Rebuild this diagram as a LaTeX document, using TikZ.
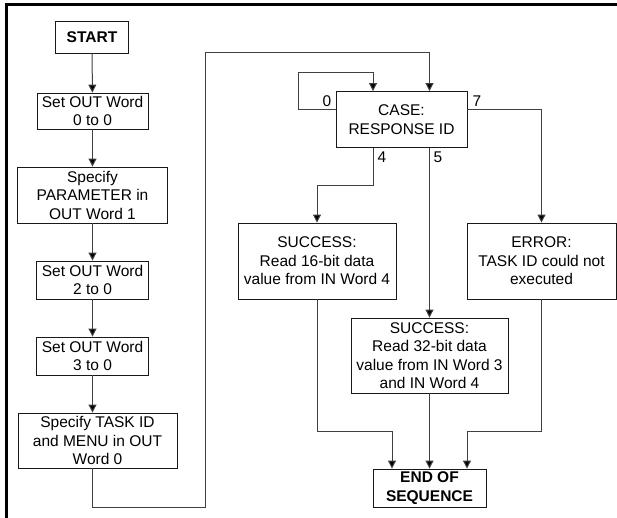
\documentclass[tikz,border=0pt]{standalone}
\usepackage{fontspec}
\setmainfont{Liberation Sans}
\usetikzlibrary{arrows.meta}
\begin{document}
\begin{tikzpicture}[x=1pt,y=-1pt,
  txt/.style={font=\fontsize{15.5}{18.5}\selectfont},
  box/.style={txt, draw=black!90, line width=0.9pt, inner sep=0pt, align=center},
  boldbox/.style={box, font=\fontsize{15.5}{18.5}\selectfont\bfseries},
  conn/.style={draw=black!75, line width=1pt},
  arr/.style={conn, -{Triangle[length=8pt,width=8pt,fill=black]}},
  lbl/.style={txt, inner sep=0pt}]
\useasboundingbox (0,0) rectangle (617,518);
\draw[line width=3pt] (6.5,518) -- (6.5,4.5) -- (617,4.5);

% left column
\node[boldbox, minimum width=73pt, minimum height=32pt] (start) at (92,37) {START};
\node[box, minimum width=111pt, minimum height=36pt] (b1) at (92.5,111) {Set OUT Word\\0 to 0};
\node[box, minimum width=150pt, minimum height=56pt] (b2) at (92.5,195) {Specify\\PARAMETER in\\OUT Word 1};
\node[box, minimum width=112pt, minimum height=38pt] (b3) at (92.5,280) {Set OUT Word\\2 to 0};
\node[box, minimum width=112pt, minimum height=38pt] (b4) at (92.5,356) {Set OUT Word\\3 to 0};
\node[box, minimum width=159pt, minimum height=55pt] (b5) at (97.5,440.5) {Specify TASK ID\\and MENU in OUT\\Word 0};

% right part
\node[box, minimum width=131pt, minimum height=56pt] (case) at (401.5,119.5) {CASE:\\RESPONSE ID};
\node[box, minimum width=158pt, minimum height=76pt] (s16) at (317,261) {SUCCESS:\\Read 16-bit data\\value from IN Word 4};
\node[box, minimum width=149pt, minimum height=76pt] (err) at (541.5,261) {ERROR:\\TASK ID could not\\executed};
\node[box, minimum width=157pt, minimum height=75pt] (s32) at (429.5,355.5) {SUCCESS:\\Read 32-bit data\\value from IN Word 3\\and IN Word 4};
\node[boldbox, minimum width=113pt, minimum height=38pt] (end) at (429.5,488) {END OF\\SEQUENCE};

% labels
\node[lbl] (l0) at (327,101) {0};
\node[lbl] (l7) at (477,101) {7};
\node[lbl] (l4) at (382,157) {4};
\node[lbl] (l5) at (438,157) {5};

% left column connectors
\draw[arr] (start) -- (b1);
\draw[arr] (b1) -- (b2);
\draw[arr] (b2) -- (b3);
\draw[arr] (b3) -- (b4);
\draw[arr] (b4.south) -- (b4.south |- b5.north);

\coordinate (c1) at (205,507);
\coordinate (c2) at (205,53);
\coordinate (cin) at (429.5,0 |- case.north);
\draw[arr] (b4.south |- b5.south) -- (b4.south |- c1) -- (c1) -- (c2) -- (c2 -| cin) -- (cin);

% loop 0
\draw[arr] (case.west |- 0,110) -- (298,110) -- (298,73) -- (373,73) -- (373,0 |- case.north);
% branch 7
\draw[arr] (case.east |- 0,110) -- (err.north |- 0,110) -- (err.north);
% branch 4
\draw[arr] (373,0 |- case.south) -- (373,186) -- (s16.north |- 0,186) -- (s16.north);
% branch 5
\draw[arr] (429.5,0 |- case.south) -- (s32.north);

% to end
\draw[arr] (s16.south) -- (s16.south |- 0,431) -- (392,431) -- (392,0 |- end.north);
\draw[arr] (s32.south) -- (end.north);
\draw[arr] (err.south) -- (err.south |- 0,431) -- (467,431) -- (467,0 |- end.north);
\end{tikzpicture}
\end{document}
